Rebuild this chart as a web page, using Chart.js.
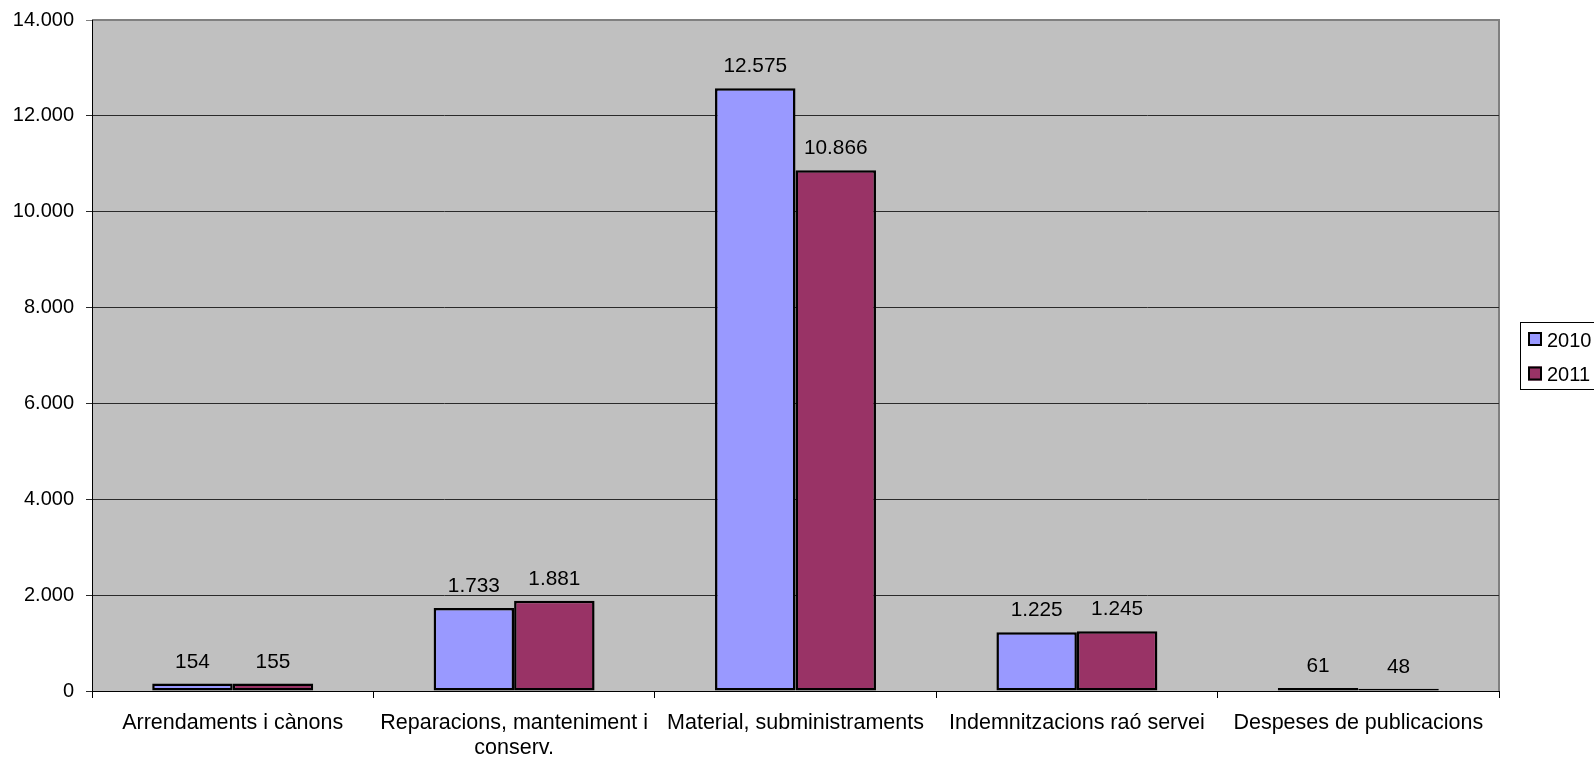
<!DOCTYPE html>
<html>
<head>
<meta charset="utf-8">
<script src="https://cdn.jsdelivr.net/npm/chart.js@4"></script>
<style>
html,body{margin:0;padding:0;background:#fff;overflow:hidden;}
canvas{display:block;}
</style>
</head>
<body>
<canvas id="c" width="1594" height="763"></canvas>
<script>
const categories = [
  'Arrendaments i cànons',
  ['Reparacions, manteniment i', 'conserv.'],
  'Material, subministraments',
  'Indemnitzacions raó servei',
  'Despeses de publicacions'
];
const values2010 = [154, 1733, 12575, 1225, 61];
const values2011 = [155, 1881, 10866, 1245, 48];
const seriesLabels = ['2010', '2011'];
const yTicks = [0, 2000, 4000, 6000, 8000, 10000, 12000, 14000];

const FONT = '"Liberation Sans", Arial, sans-serif';
const fmt = v => String(v).replace(/\B(?=(\d{3})+(?!\d))/g, '.');

const plotBg = {
  id: 'plotBg',
  beforeDraw(chart) {
    const {ctx, chartArea: a} = chart;
    ctx.save();
    ctx.fillStyle = '#C0C0C0';
    ctx.fillRect(a.left, a.top, a.right - a.left, a.bottom - a.top);
    ctx.strokeStyle = '#808080';
    ctx.lineWidth = 2;
    ctx.beginPath();
    ctx.moveTo(a.left, a.top);
    ctx.lineTo(a.right, a.top);
    ctx.lineTo(a.right, a.bottom);
    ctx.stroke();
    ctx.restore();
  }
};

const dataLabels = {
  id: 'dataLabels',
  afterDatasetsDraw(chart) {
    const ctx = chart.ctx;
    ctx.save();
    ctx.font = '20.8px ' + FONT;
    ctx.fillStyle = '#000';
    ctx.textAlign = 'center';
    ctx.textBaseline = 'alphabetic';
    chart.data.datasets.forEach((ds, i) => {
      const meta = chart.getDatasetMeta(i);
      meta.data.forEach((el, j) => {
        ctx.fillText(fmt(ds.data[j]), el.x, el.y - 16);
      });
    });
    ctx.restore();
  }
};

const customLegend = {
  id: 'customLegend',
  afterDraw(chart) {
    const ctx = chart.ctx;
    ctx.save();
    ctx.strokeStyle = '#000';
    ctx.lineWidth = 1;
    ctx.strokeRect(1520.5, 322.5, 100, 67);
    ctx.font = '20px ' + FONT;
    ctx.textBaseline = 'alphabetic';
    ctx.textAlign = 'left';
    chart.data.datasets.forEach((ds, i) => {
      const y = 332 + i * 34.5;
      ctx.fillStyle = ds.backgroundColor;
      ctx.fillRect(1528, y, 14, 14);
      ctx.lineWidth = 2;
      ctx.strokeStyle = '#000';
      ctx.strokeRect(1529, y + 1, 12, 12);
      ctx.fillStyle = '#000';
      ctx.fillText(ds.label, 1547, y + 14.5);
    });
    ctx.restore();
  }
};

new Chart(document.getElementById('c'), {
  type: 'bar',
  data: {
    labels: categories,
    datasets: [
      { label: seriesLabels[0], data: values2010, backgroundColor: '#9999FF', borderColor: '#000', borderWidth: 2.5, borderSkipped: false },
      { label: seriesLabels[1], data: values2011, backgroundColor: '#993366', borderColor: '#000', borderWidth: 2.5, borderSkipped: false }
    ]
  },
  options: {
    responsive: false,
    animation: false,
    events: [],
    layout: { padding: { left: 0, right: 95, top: 20, bottom: 0 } },
    datasets: { bar: { categoryPercentage: 0.572, barPercentage: 1.0 } },
    plugins: { legend: { display: false }, tooltip: { enabled: false } },
    scales: {
      x: {
        offset: true,
        grid: { offset: true, drawOnChartArea: false, drawTicks: true, tickLength: 7, color: '#000', lineWidth: 1 },
        border: { display: true, color: '#000', width: 1 },
        ticks: { font: { family: FONT, size: 21.5, lineHeight: 1.15 }, color: '#000', maxRotation: 0, autoSkip: false, padding: 13 },
        afterFit: s => { s.height = 72; s.paddingLeft = 0; s.paddingRight = 0; }
      },
      y: {
        min: 0, max: 14000,
        afterBuildTicks: s => { s.ticks = yTicks.map(v => ({ value: v })); },
        grid: {
          drawTicks: true, tickLength: 6,
          color: c => (c.tick && c.tick.value === 14000) ? '#808080' : '#2a2a2a',
          lineWidth: 1
        },
        border: { display: true, color: '#000', width: 1 },
        ticks: { font: { family: FONT, size: 20 }, color: '#000', padding: 12, callback: v => fmt(v) },
        afterFit: s => { s.width = 92; s.paddingTop = 0; s.paddingBottom = 0; }
      }
    }
  },
  plugins: [plotBg, dataLabels, customLegend]
});
</script>
</body>
</html>
